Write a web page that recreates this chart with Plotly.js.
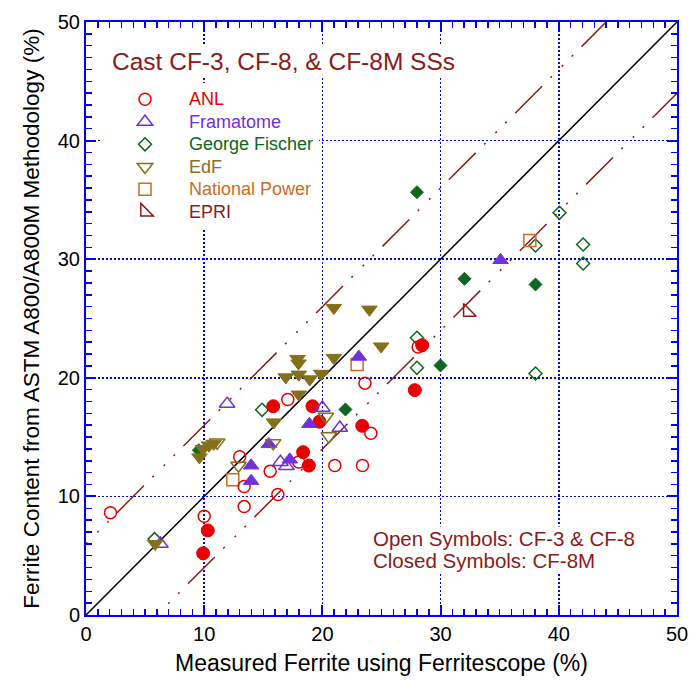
<!DOCTYPE html>
<html><head><meta charset="utf-8">
<script src="https://cdn.plot.ly/plotly-3.0.1.min.js"></script>
<style>html,body{margin:0;padding:0;background:#fff;}#chart{width:694px;height:684px;}</style>
</head><body><div id="chart"></div>
<script>
// ---- data (Measured Ferritescope %, ASTM A800 %) ----
const anlOpenX = [17.07, 13.0, 15.58, 18.0, 13.38, 16.23, 13.38, 2.07, 10.0, 21.05, 23.39, 24.1, 23.6, 28.1];
const anlOpenY = [18.17, 13.35, 12.13, 12.9, 10.83, 10.16, 9.14, 8.63, 8.33, 12.6, 12.6, 15.33, 19.55, 22.6];
const anlClosedX = [15.84, 19.16, 19.75, 18.37, 18.85, 23.37, 27.82, 28.44, 10.3, 9.91];
const anlClosedY = [17.6, 17.6, 16.3, 13.73, 12.6, 15.95, 18.96, 22.75, 7.13, 5.2];

const framOpenX = [11.94, 20.0, 21.47, 16.45, 16.96, 6.3];
const framOpenY = [17.8, 17.47, 15.78, 12.9, 12.55, 6.0];
const framClosedX = [23.08, 35.07, 18.9, 15.47, 17.24, 13.97, 13.97];
const framClosedY = [21.77, 29.92, 16.1, 14.4, 13.1, 12.6, 11.3];

const gfOpenX = [14.9, 28.0, 28.0, 38.03, 38.03, 40.06, 42.06, 42.06, 5.8];
const gfOpenY = [17.3, 23.37, 20.84, 20.36, 31.16, 33.91, 31.24, 29.64, 6.4];
const gfClosedX = [28.0, 32.02, 38.03, 29.99, 21.95, 9.55];
const gfClosedY = [35.65, 28.35, 27.87, 21.04, 17.33, 13.9];

const edfOpenX = [11.1, 12.9, 15.84, 20.3, 20.54];
const edfOpenY = [14.55, 12.6, 14.5, 16.72, 15.08];
const edfClosedX = [17.9, 17.98, 16.9, 18.0, 18.93, 19.9, 20.97, 20.97, 23.98, 24.97, 18.0, 15.89, 9.6, 9.9, 10.4, 10.8, 5.85];
const edfClosedY = [21.6, 21.22, 20.05, 20.28, 19.88, 20.35, 21.69, 25.9, 25.76, 22.65, 18.6, 16.25, 13.3, 14.0, 14.3, 14.45, 6.0];

const npOpenX = [37.55, 22.94, 12.42];
const npOpenY = [31.58, 21.12, 11.4];

const epriOpenX = [32.3];
const epriOpenY = [25.55];

// reference lines: 1:1 and +/- 6 % bands
const axisRange = [0, 50];
const bandOffset = 6;

// ---- styling ----
const FONT = 'Liberation Sans, Arial, Helvetica, sans-serif';
const cANL = '#E80000', cFram = '#7030DD', cGF = '#0E6620', cEdF = '#84701A', cNP = '#D06A1E', cEPRI = '#8B1A1A';
const cText = '#8B1A1A';
const BLUE = '#0000FF';
const bandDash = '2px,14px,2px,12px,2px,12px,38px,12px';

function lbl(name, color) {
  return '<span style="font-size:18px;color:' + color + '">' + name + '</span>';
}
function openTrace(x, y, name, color, symbol, size, rank) {
  return {x: x, y: y, type: 'scatter', mode: 'markers', name: lbl(name, color), legendrank: rank,
    marker: {symbol: symbol + '-open', size: size, color: color, line: {color: color, width: 1.5}},
    hoverinfo: 'x+y'};
}
function closedTrace(x, y, name, color, symbol, size) {
  return {x: x, y: y, type: 'scatter', mode: 'markers', name: name + ' (CF-8M)', showlegend: false,
    marker: {symbol: symbol, size: size, color: color, line: {color: color, width: 1}},
    hoverinfo: 'x+y'};
}

const lo = axisRange[0], hi = axisRange[1];
const lineTraces = [
  {x: [lo, hi], y: [lo, hi], type: 'scatter', mode: 'lines', showlegend: false, hoverinfo: 'skip',
   line: {color: '#000', width: 1.5}},
  {x: [lo, hi - bandOffset], y: [lo + bandOffset, hi], type: 'scatter', mode: 'lines', showlegend: false, hoverinfo: 'skip',
   line: {color: cEPRI, width: 1.5, dash: bandDash}},
  {x: [lo + bandOffset, hi], y: [lo, hi - bandOffset], type: 'scatter', mode: 'lines', showlegend: false, hoverinfo: 'skip',
   line: {color: cEPRI, width: 1.5, dash: bandDash}}
];

const data = lineTraces.concat([
  openTrace(gfOpenX, gfOpenY, 'George Fischer', cGF, 'diamond', 10, 3),
  closedTrace(gfClosedX, gfClosedY, 'George Fischer', cGF, 'diamond', 10),
  openTrace(npOpenX, npOpenY, 'National Power', cNP, 'square', 12, 5),
  openTrace(anlOpenX, anlOpenY, 'ANL', cANL, 'circle', 12, 1),
  closedTrace(anlClosedX, anlClosedY, 'ANL', cANL, 'circle', 13),
  openTrace(framOpenX, framOpenY, 'Framatome', cFram, 'triangle-up', 13.5, 2),
  closedTrace(framClosedX, framClosedY, 'Framatome', cFram, 'triangle-up', 13.5),
  openTrace(edfOpenX, edfOpenY, 'EdF', cEdF, 'triangle-down', 13.5, 4),
  closedTrace(edfClosedX, edfClosedY, 'EdF', cEdF, 'triangle-down', 13.5),
  openTrace(epriOpenX, epriOpenY, 'EPRI', cEPRI, 'triangle-sw', 14, 6)
]);

function axis(titleText, titleSize, standoff) {
  return {
    range: axisRange, tick0: 0, dtick: 10, ticks: 'inside', ticklen: 10, tickwidth: 2, tickcolor: BLUE,
    mirror: 'allticks', showline: true, linecolor: BLUE, linewidth: 2,
    showgrid: true, gridcolor: BLUE, gridwidth: 1.5, griddash: '2px,2px', zeroline: false,
    minor: {dtick: 1, ticks: 'inside', ticklen: 6, tickwidth: 1.5, tickcolor: BLUE, showgrid: false},
    tickfont: {family: FONT, size: 20, color: '#000'},
    title: {text: titleText, font: {family: FONT, size: titleSize, color: '#000'}, standoff: standoff},
    automargin: false, fixedrange: true
  };
}

const layout = {
  width: 694, height: 684,
  margin: {l: 86, r: 17, t: 22, b: 69},
  paper_bgcolor: '#fff', plot_bgcolor: '#fff',
  font: {family: FONT, color: '#000'},
  xaxis: axis('Measured Ferrite using Ferritescope (%)', 23, 11),
  yaxis: axis('Ferrite Content from ASTM A800/A800M Methodology (%)', 22.5, 12),
  showlegend: true,
  legend: {x: 0.0254, y: 0.897, xanchor: 'left', yanchor: 'top', bgcolor: '#fff', borderwidth: 0,
    itemwidth: 78, font: {family: FONT, size: 15, color: '#000'}, traceorder: 'normal'},
  shapes: [
    {type: 'rect', xref: 'paper', yref: 'paper', x0: 0.0203, x1: 0.4146, y0: 0.6627, y1: 0.9612,
     fillcolor: '#fff', line: {width: 0}, layer: 'between'}
  ],
  annotations: [
    {xref: 'paper', yref: 'paper', x: 0.0384, y: 0.933, xanchor: 'left', yanchor: 'middle', showarrow: false,
     text: 'Cast CF-3, CF-8, &amp; CF-8M SSs', font: {family: FONT, size: 24.5, color: cText}, bgcolor: '#fff', borderpad: 2},
    {xref: 'paper', yref: 'paper', x: 0.484, y: 0.0919, xanchor: 'left', yanchor: 'middle', showarrow: false,
     text: 'Closed Symbols: CF-8M', font: {family: FONT, size: 20.5, color: cText}, bgcolor: '#fff', borderpad: 0},
    {xref: 'paper', yref: 'paper', x: 0.484, y: 0.1298, xanchor: 'left', yanchor: 'middle', showarrow: false,
     text: 'Open Symbols: CF-3 &amp; CF-8', font: {family: FONT, size: 20.5, color: cText}, bgcolor: '#fff', borderpad: 0}
  ]
};

Plotly.newPlot('chart', data, layout, {displayModeBar: false, staticPlot: true});
</script>
</body></html>
